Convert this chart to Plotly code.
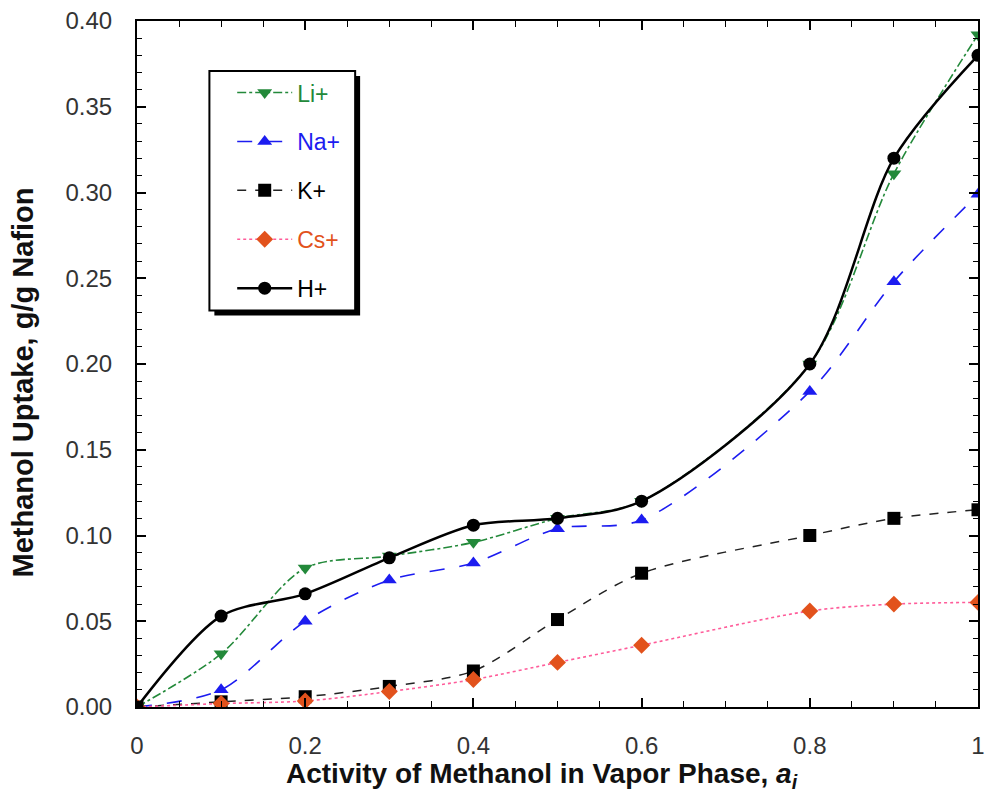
import plotly.graph_objects as go

x_vals = [0, 0.1, 0.2, 0.3, 0.4, 0.5, 0.6, 0.8, 0.9, 1.0]
li_vals = [0, 0.031, 0.081, 0.088, 0.096, 0.110, 0.120, 0.200, 0.311, 0.392]
na_vals = [0, 0.010, 0.050, 0.074, 0.084, 0.104, 0.109, 0.184, 0.248, 0.299]
k_vals = [0, 0.003, 0.006, 0.012, 0.021, 0.051, 0.078, 0.100, 0.110, 0.115]
cs_vals = [0, 0.002, 0.0035, 0.009, 0.016, 0.026, 0.036, 0.056, 0.060, 0.061]
h_vals = [0, 0.053, 0.066, 0.087, 0.106, 0.110, 0.120, 0.200, 0.320, 0.380]

x_tickvals = [0, 0.2, 0.4, 0.6, 0.8, 1.0]
x_ticktext = ["0", "0.2", "0.4", "0.6", "0.8", "1"]
y_tickvals = [0, 0.05, 0.10, 0.15, 0.20, 0.25, 0.30, 0.35, 0.40]
y_ticktext = ["0.00", "0.05", "0.10", "0.15", "0.20", "0.25", "0.30", "0.35", "0.40"]

FONT = "Liberation Sans, Arial, Helvetica, sans-serif"
GREEN = "#23893a"
BLUE = "#1c1cf0"
ORANGE = "#e2521c"
PINK = "#ff5c9a"

series = [
    dict(name="Li+", y=li_vals, color=GREEN, lc=GREEN, dash="dashdot", sym="triangle-down", w=1.6, tc=GREEN),
    dict(name="Na+", y=na_vals, color=BLUE, lc=BLUE, dash="longdash", sym="triangle-up", w=1.6, tc=BLUE),
    dict(name="K+", y=k_vals, color="black", lc="#222222", dash="dash", sym="square", w=1.5, tc="black"),
    dict(name="Cs+", y=cs_vals, color=ORANGE, lc=PINK, dash="dot", sym="diamond", w=1.6, tc=ORANGE),
    dict(name="H+", y=h_vals, color="black", lc="black", dash="solid", sym="circle", w=2.5, tc="black"),
]

fig = go.Figure()
for i, s in enumerate(series):
    fig.add_trace(go.Scatter(
        x=x_vals, y=s["y"], mode="lines+markers",
        name=f"<span style='color:{s['tc']}'>{s['name']}</span>",
        legendgroup=str(i),
        line=dict(color=s["lc"], dash=s["dash"], width=s["w"], shape="spline", smoothing=0.85),
        marker=dict(symbol=s["sym"], size=13, color=s["color"], line=dict(width=0)),
    ))

axis_common = dict(
    showline=True, linecolor="black", linewidth=2, mirror="allticks",
    ticks="inside", tickcolor="black", tickwidth=1.5, ticklen=9,
    showgrid=False, zeroline=False,
    tickfont=dict(family=FONT, size=24, color="#333"),
)

fig.update_xaxes(
    range=[0, 1], tickvals=x_tickvals, ticktext=x_ticktext,
    minor=dict(dtick=0.05, ticklen=6, tickcolor="black", ticks="inside", tickwidth=1),
    ticklabelstandoff=16,
    **axis_common,
)
fig.update_yaxes(
    range=[0, 0.40], tickvals=y_tickvals, ticktext=y_ticktext,
    minor=dict(dtick=0.01, ticklen=5, tickcolor="black", ticks="inside", tickwidth=1),
    ticklabelstandoff=18,
    **axis_common,
)

# axis titles
fig.add_annotation(
    text="<b>Activity of Methanol in Vapor Phase, <i>a</i><sub><i>i</i></sub></b>",
    xref="paper", yref="paper", x=0.482, y=-0.072, xanchor="center", yanchor="top",
    showarrow=False, font=dict(family=FONT, size=28, color="#111"),
)
fig.add_annotation(
    text="<b>Methanol Uptake, g/g Nafion</b>",
    xref="paper", yref="paper", x=-0.1356, y=0.473, xanchor="center", yanchor="middle",
    textangle=-90, showarrow=False, font=dict(family=FONT, size=29, color="#111"),
)

# legend frame with drop shadow
fig.add_shape(type="rect", xref="paper", yref="paper",
              x0=0.0920, x1=0.2653, y0=0.5706, y1=0.9199,
              fillcolor="black", line=dict(width=0), layer="above")
fig.add_shape(type="rect", xref="paper", yref="paper",
              x0=0.0861, x1=0.2594, y0=0.5779, y1=0.9272,
              fillcolor="white", line=dict(color="black", width=2), layer="above")

fig.update_layout(
    width=992, height=799,
    margin=dict(l=137, r=7, t=20, b=92),
    paper_bgcolor="white", plot_bgcolor="white",
    font=dict(family=FONT, size=18),
    legend=dict(
        x=0.1132, y=0.927, xanchor="left", yanchor="top",
        bgcolor="rgba(0,0,0,0)", borderwidth=0,
        font=dict(family=FONT, size=23),
        traceorder="grouped", tracegroupgap=16, itemwidth=55,
    ),
    showlegend=True,
)

fig.write_html("out.html")
